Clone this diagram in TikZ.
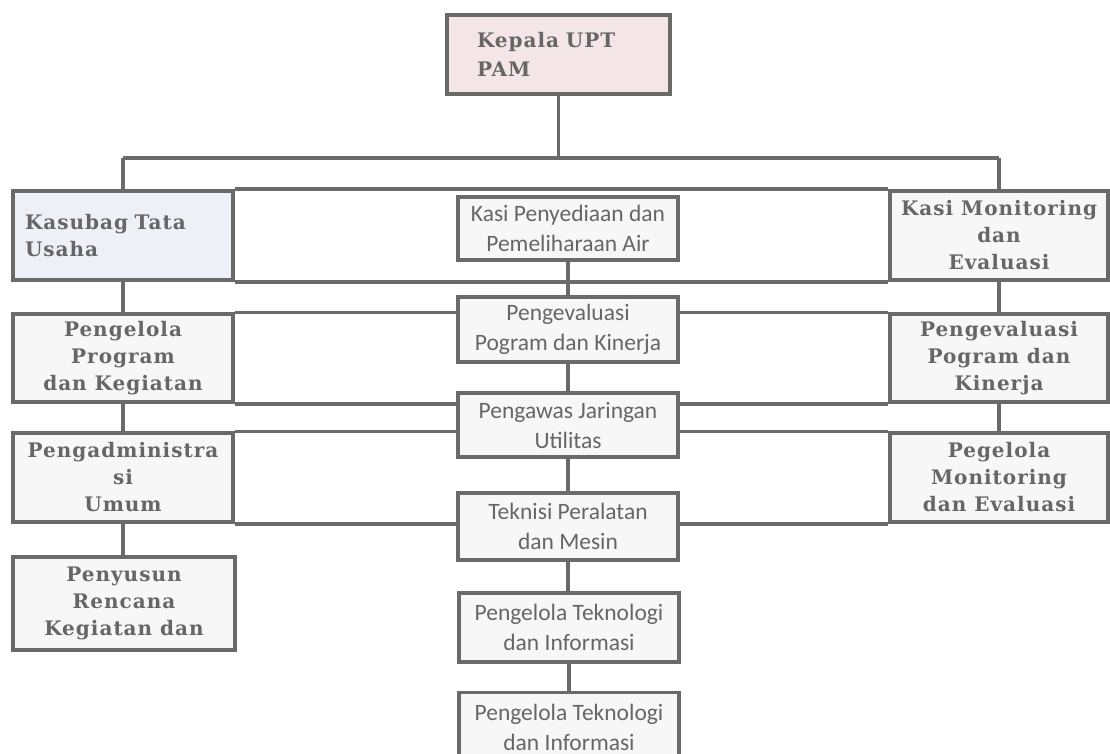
\documentclass[tikz,border=0pt]{standalone}
\usepackage{fontspec}
\usetikzlibrary{backgrounds}
\newfontfamily\slabfont[LetterSpace=5]{DejaVu Serif}
\newfontfamily\califont{Carlito}
\definecolor{linegray}{HTML}{6A6A6A}
\definecolor{txtgray}{HTML}{666666}
\definecolor{pinkfill}{HTML}{F4E6E8}
\definecolor{bluefill}{HTML}{EEF0F8}
\definecolor{boxfill}{HTML}{F7F7F7}

\tikzset{
  unitbox/.style={draw=linegray, line width=3.4pt, fill=boxfill, inner sep=0pt,
    text=txtgray, align=center},
  slabbox/.style={unitbox, font=\slabfont\bfseries\fontsize{20}{27}\selectfont},
  calibox/.style={unitbox, minimum width=220pt, font=\califont\fontsize{23.5}{30}\selectfont},
  conn/.style={draw=linegray, line width=3.6pt}
}

\begin{document}
\begin{tikzpicture}[x=1pt, y=-1pt]
        \clip (0,0) rectangle (1110,754);
        % kepala
        \node[slabbox, fill=pinkfill, minimum width=223pt, minimum height=79pt,
              text width=163pt, align=left, font=\slabfont\bfseries\fontsize{20}{29}\selectfont]
              (kepala) at (558.5,54.5) {Kepala UPT\\PAM};
        % kolom kiri
        \node[slabbox, fill=bluefill, minimum width=220pt, minimum height=89pt,
              text width=196pt, align=left] (kasubag) at (123,235.5) {Kasubag Tata\\Usaha};
        \node[slabbox, minimum width=220pt, minimum height=88pt] (progkeg) at (123,358) {Pengelola\\Program\\dan Kegiatan};
        \node[slabbox, minimum width=220pt, minimum height=89pt] (admum) at (123,477.5) {Pengadministra\\si\\Umum};
        \node[slabbox, minimum width=222pt, minimum height=93pt] (penyusun) at (124,603.5) {Penyusun\\Rencana\\Kegiatan dan};
        % kolom kanan
        \node[slabbox, minimum width=218pt, minimum height=89pt] (kasimon) at (999,235.5) {Kasi Monitoring\\dan\\Evaluasi};
        \node[slabbox, minimum width=218pt, minimum height=88pt] (evalkan) at (999,358) {Pengevaluasi\\Pogram dan\\Kinerja};
        \node[slabbox, minimum width=218pt, minimum height=89pt] (monev) at (999,477.5) {Pegelola\\Monitoring\\dan Evaluasi};
        % kolom tengah
        \node[calibox, minimum height=63pt] (kasipen) at (568,228.5) {Kasi Penyediaan dan\\Pemeliharaan Air};
        \node[calibox, minimum height=65pt] (evaltgh) at (568,329.5) {Pengevaluasi\\Pogram dan Kinerja};
        \node[calibox, minimum height=64pt] (pengawas) at (568,425) {Pengawas Jaringan\\Utilitas};
        \node[calibox, minimum height=67pt] (teknisi) at (568,526.5) {Teknisi Peralatan\\dan Mesin};
        \node[calibox, minimum height=69pt] (tekinfa) at (569,627.5) {Pengelola Teknologi\\dan Informasi};
        \node[calibox, minimum height=69pt] (tekinfb) at (569,727) {Pengelola Teknologi\\dan Informasi};

        \coordinate (busL) at (123,158);
        \coordinate (busR) at (999,158);

        \begin{scope}[on background layer]
        \fill[white] (0,0) rectangle (1110,754);
        \draw[conn] (kepala.south) -- (kepala.south |- busL);
        \draw[conn] (busL) -- (busR);
        \draw[conn] (busL) -- (kasubag.north);
        \draw[conn] (busR) -- (kasimon.north);
        \draw[conn] (kasubag.north east) -- (kasimon.north west);
        \draw[conn] (kasubag.south east) -- (kasimon.south west);
        \draw[conn] (progkeg.north east) -- (evalkan.north west);
        \draw[conn] (progkeg.south east) -- (evalkan.south west);
        \draw[conn] (admum.north east) -- (monev.north west);
        \draw[conn] (admum.south east) -- (monev.south west);
        \draw[conn] (kasubag) -- (progkeg);
        \draw[conn] (progkeg) -- (admum);
        \draw[conn] (admum) -- (penyusun.north -| admum);
        \draw[conn] (kasimon) -- (evalkan);
        \draw[conn] (evalkan) -- (monev);
        \draw[conn] (kasipen) -- (evaltgh);
        \draw[conn] (evaltgh) -- (pengawas);
        \draw[conn] (pengawas) -- (teknisi);
        \draw[conn] (teknisi.south) -- (teknisi.south |- tekinfa.north);
        \draw[conn] (tekinfa.south) -- (tekinfa.south |- tekinfb.north);
        \end{scope}
        \end{tikzpicture}
\end{document}
